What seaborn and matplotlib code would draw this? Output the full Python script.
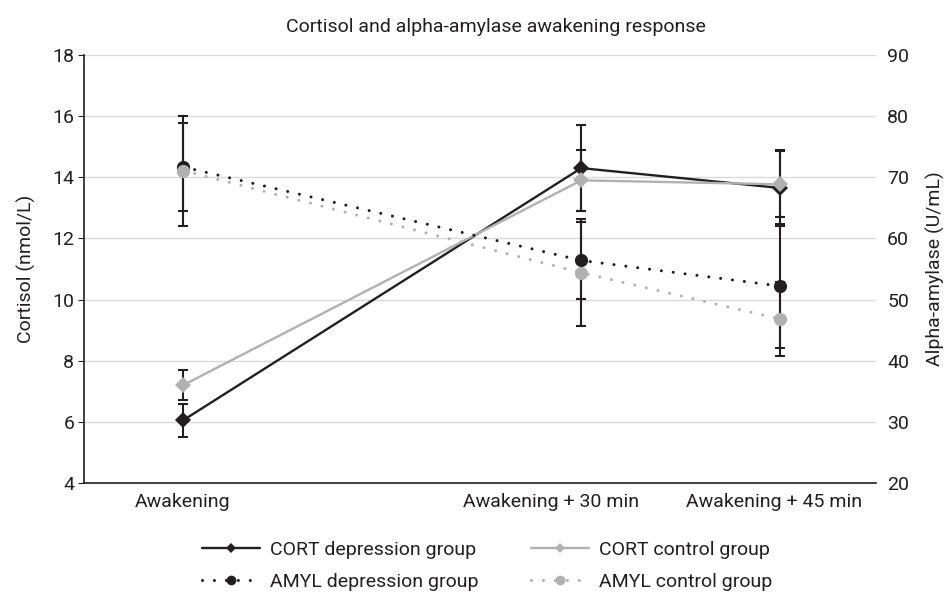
"""
Cortisol and alpha-amylase awakening response
Saves the figure as out.png
"""

import matplotlib

matplotlib.use("Agg")
import matplotlib.pyplot as plt
import matplotlib.lines as mlines
from matplotlib import font_manager
import seaborn as sns

# ------------------------------#
# Data
time_labels = ["Awakening", "Awakening + 30 min", "Awakening + 45 min"]
minutes = [0, 30, 45]

cort_dep = [6.05, 14.3, 13.65]
cort_dep_sd = [0.55, 1.4, 1.25]
cort_ctrl = [7.2, 13.9, 13.77]
cort_ctrl_sd = [0.5, 1.0, 1.08]

amyl_dep = [71.7, 56.4, 52.2]
amyl_dep_sd = [7.2, 6.25, 10.1]
amyl_ctrl = [71.1, 54.4, 46.8]
amyl_ctrl_sd = [9.0, 8.75, 6.0]

legend_labels = [
    "CORT depression group",
    "CORT control group",
    "AMYL depression group",
    "AMYL control group",
]
# ------------------------------#

# Global settings
sns.set_style("white")
installed = {f.name for f in font_manager.fontManager.ttflist}
main_font = "Liberation Sans Narrow" if "Liberation Sans Narrow" in installed else "Roboto"
plt.rcParams["font.family"] = [main_font, "DejaVu Sans"]
plt.rcParams["font.size"] = 14

dark = "#231f20"
gray = "#b1b1b1"
dotted = (0, (0.01, 3.9))

W, H = 949, 597
fig = plt.figure(figsize=(W / 100, H / 100), dpi=100)
ax = fig.add_axes([84 / W, 1 - 483 / H, (876 - 84) / W, (483 - 55) / H])
ax2 = ax.twinx()

# Error bars (all drawn dark, under the markers)
err_kw = dict(fmt="none", ecolor=dark, elinewidth=1.5, capsize=3.8, capthick=1.5)
ax.errorbar(minutes, cort_dep, yerr=cort_dep_sd, zorder=2, **err_kw)
ax.errorbar(minutes, cort_ctrl, yerr=cort_ctrl_sd, zorder=2, **err_kw)
ax2.errorbar(minutes, amyl_dep, yerr=amyl_dep_sd, zorder=2, **err_kw)
ax2.errorbar(minutes, amyl_ctrl, yerr=amyl_ctrl_sd, zorder=2, **err_kw)

# Cortisol lines
sns.lineplot(x=minutes, y=cort_dep, ax=ax, color=dark, lw=1.7, marker="D",
             markersize=8.5, mec=dark, mew=0, zorder=3, legend=False)
sns.lineplot(x=minutes, y=cort_ctrl, ax=ax, color=gray, lw=1.7, marker="D",
             markersize=8.5, mec=gray, mew=0, zorder=4, legend=False)

# Alpha-amylase lines
sns.lineplot(x=minutes, y=amyl_dep, ax=ax2, color=dark, lw=2.2, linestyle=dotted,
             dash_capstyle="round", marker="o", markersize=9.5, mec=dark, mew=0,
             zorder=3, legend=False)
sns.lineplot(x=minutes, y=amyl_ctrl, ax=ax2, color=gray, lw=2.2, linestyle=dotted,
             dash_capstyle="round", marker="o", markersize=9.5, mec=gray, mew=0,
             zorder=4, legend=False)

# Axes styling
ax.set_xlim(-7.46, 52.2)
ax.set_ylim(4, 18)
ax.set_yticks(range(4, 19, 2))
ax2.set_ylim(20, 90)
ax2.set_yticks(range(20, 91, 10))
ax.set_xticks([0, 27.7, 44.5], time_labels)

ax.yaxis.grid(True, color="#d9d9d9", lw=1)
ax.set_axisbelow(True)
for s in ["top", "right"]:
    ax.spines[s].set_visible(False)
for s in ax2.spines.values():
    s.set_visible(False)
ax.spines["left"].set_color(dark)
ax.spines["bottom"].set_color(dark)
ax.spines["left"].set_linewidth(1.2)
ax.spines["bottom"].set_linewidth(1.2)

ax.tick_params(axis="y", length=4, color=dark, labelcolor=dark, pad=3)
ax.tick_params(axis="x", length=0, labelcolor=dark, pad=7)
ax2.tick_params(axis="y", length=0, labelcolor=dark, pad=8)

ax.set_ylabel("Cortisol (nmol/L)", color=dark, labelpad=12)
ax2.set_ylabel("Alpha-amylase (U/mL)", color=dark, rotation=90, labelpad=12)

fig.text(496 / W, 1 - 27 / H, "Cortisol and alpha-amylase awakening response",
         ha="center", va="center", color=dark)

# Legend
handles = [
    mlines.Line2D([], [], color=dark, lw=1.7, marker="D", ms=5, mew=0, label=legend_labels[0]),
    mlines.Line2D([], [], color=dark, lw=2.2, ls=dotted, dash_capstyle="round",
                  marker="o", ms=7, mew=0, label=legend_labels[2]),
    mlines.Line2D([], [], color=gray, lw=1.7, marker="D", ms=5, mew=0, label=legend_labels[1]),
    mlines.Line2D([], [], color=gray, lw=2.2, ls=dotted, dash_capstyle="round",
                  marker="o", ms=7, mew=0, label=legend_labels[3]),
]
leg = fig.legend(handles=handles, ncol=2, loc="center",
                 bbox_to_anchor=(487 / W, 1 - 566 / H), frameon=False,
                 handlelength=3, columnspacing=2.7, handletextpad=0.5,
                 labelspacing=0.75)
for t in leg.get_texts():
    t.set_color(dark)

fig.savefig("out.png", dpi=100)
